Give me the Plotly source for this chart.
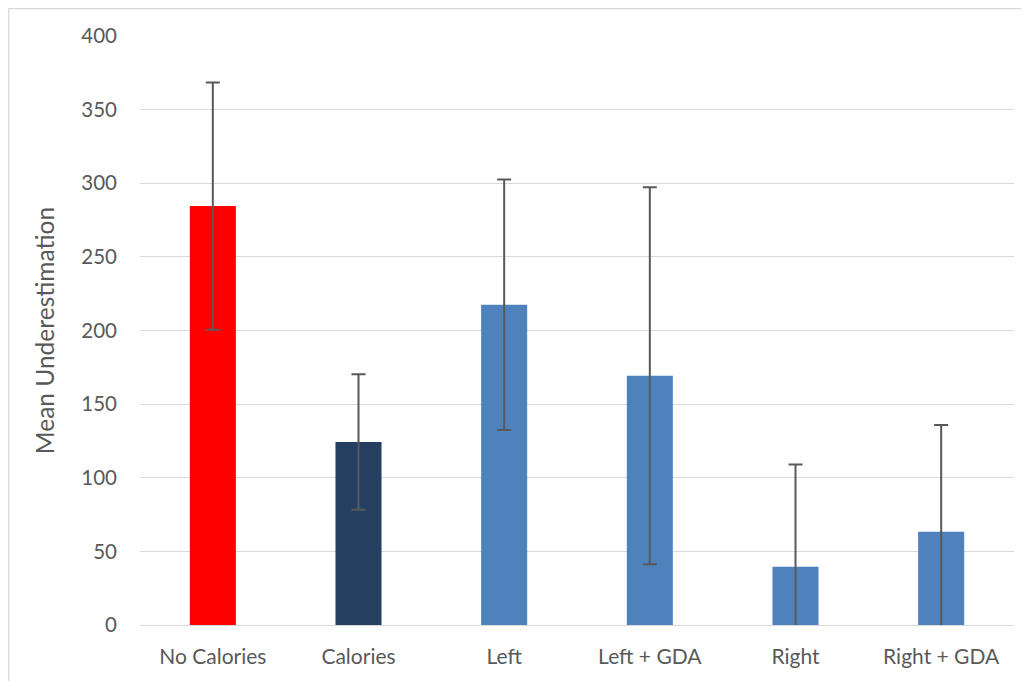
import plotly.graph_objects as go

categories = ["No Calories", "Calories", "Left", "Left + GDA", "Right", "Right + GDA"]
means = [284.5, 124.3, 217.5, 169.3, 39.5, 63.3]
errors = [84, 46, 85, 128, 69.5, 72.5]
bar_colors = ["#FF0000", "#243F60", "#4F81BD", "#4F81BD", "#4F81BD", "#4F81BD"]
y_ticks = [0, 50, 100, 150, 200, 250, 300, 350, 400]

font_family = "Lato, 'Open Sans', sans-serif"
text_color = "#595959"

# page has an 8px body margin; plot area on page: x 140..1014, y 36..625
L, R, T, B = 132, 23, 28, 64
PW, PH = 1029 - L - R, 681 - T - B

fig = go.Figure(
    go.Bar(
        x=categories,
        y=means,
        marker=dict(color=bar_colors, line=dict(width=0)),
        width=0.316,
        error_y=dict(type="data", array=errors, visible=True,
                     color="#595959", thickness=2, width=7),
    )
)

fig.update_layout(
    width=1029, height=681,
    margin=dict(l=L, r=R, t=T, b=B),
    paper_bgcolor="white", plot_bgcolor="white",
    showlegend=False,
    font=dict(family=font_family, color=text_color, size=21),
    xaxis=dict(showgrid=False, showline=False, ticks="", ticklabelstandoff=17,
               tickfont=dict(size=21, color=text_color)),
    yaxis=dict(range=[0, 400], tickvals=y_ticks, showgrid=True, gridcolor="#D9D9D9",
               gridwidth=1.3, zeroline=True, zerolinecolor="#D9D9D9", zerolinewidth=1.3,
               showline=False, ticks="", ticklabelstandoff=22,
               tickfont=dict(size=20.5, color=text_color),
               title=dict(text="Mean Underestimation", standoff=19,
                          font=dict(size=24.5, color=text_color))),
    shapes=[dict(type="rect", xref="paper", yref="paper",
                 x0=(0.7 - L) / PW, x1=(1045 - L) / PW,
                 y0=(PH + T - 700) / PH, y1=(PH + T - 0.7) / PH,
                 line=dict(color="#D9D9D9", width=1.3), fillcolor="rgba(0,0,0,0)",
                 layer="below")],
)

fig.write_html("out.html")
